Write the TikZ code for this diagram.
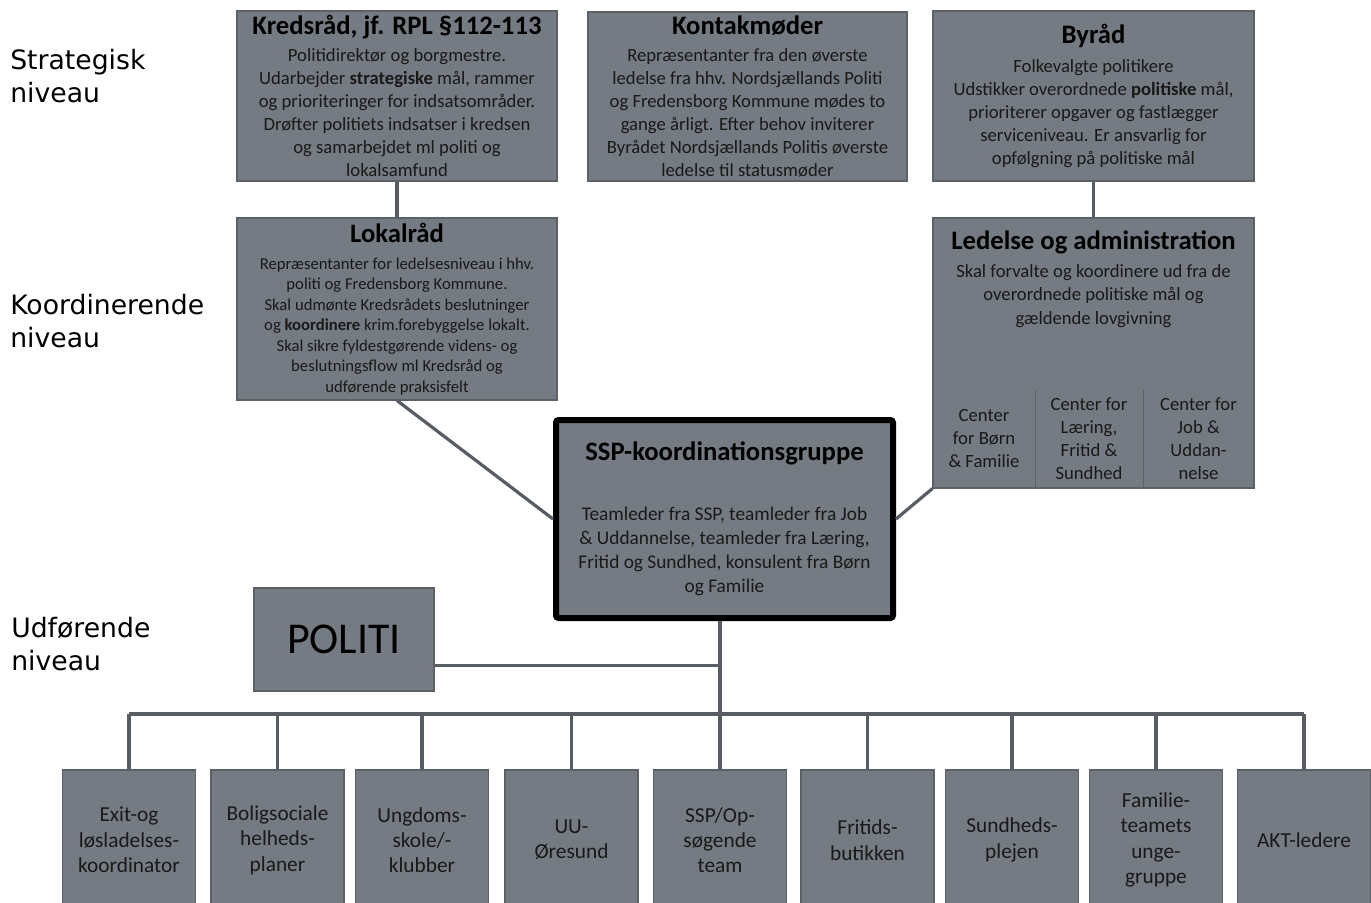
\documentclass[tikz,border=0pt]{standalone}
\usepackage{fontspec}
\setmainfont{Carlito}
\newfontfamily\lvlfont{DejaVu Sans}
\usetikzlibrary{positioning}

\definecolor{boxfill}{RGB}{117,123,131}
\definecolor{boxedge}{RGB}{92,97,104}
\definecolor{linkgray}{RGB}{88,93,100}
\definecolor{boxtext}{RGB}{25,25,25}

\tikzset{
  box/.style={draw=boxedge, fill=boxfill, line width=0.8pt, align=center, inner sep=2pt, text=boxtext},
  link/.style={draw=linkgray, line width=2.4pt},
  divider/.style={draw=boxedge, line width=0.6pt},
  lvl/.style={anchor=west, align=left, inner sep=0pt, font=\lvlfont\fontsize{20}{24.75}\selectfont},
  unit/.style={box, minimum width=99.75pt, minimum height=105pt, font=\fontsize{16}{19}\selectfont},
  cell/.style={align=center, inner sep=0pt, minimum height=73.5pt, text=boxtext, font=\fontsize{14}{17.25}\selectfont},
}
\newcommand{\boxtitle}[1]{{\fontsize{20}{24}\selectfont\bfseries\color{black}#1}}

\begin{document}
\begin{tikzpicture}[x=0.75pt, y=-0.75pt]
    \clip (0,0) rectangle (1371,903);
    \fill[white] (0,0) rectangle (1371,903);

    % levels
    \node[lvl] (lvlstrat) at (10,76.5) {Strategisk\\niveau};
    \node[lvl] (lvlkoord) at (10,321.5) {Koordinerende\\niveau};
    \node[lvl] (lvludf) at (11,644) {Udførende\\niveau};

    % strategic level
    \node[box, minimum width=240pt, minimum height=127.5pt, font=\fontsize{14}{17.25}\selectfont] (kreds) at (397,96)
      {\boxtitle{Kredsråd, jf. RPL §112-113}\\[3pt]
       Politidirektør og borgmestre.\\
       Udarbejder \textbf{strategiske} mål, rammer\\
       og prioriteringer for indsatsområder.\\
       Drøfter  politiets indsatser i kredsen\\
       og samarbejdet ml politi og\\
       lokalsamfund};
    \node[box, minimum width=239.25pt, minimum height=126.75pt, font=\fontsize{14}{17.25}\selectfont] (kontakt) at (747.5,96.5)
      {\boxtitle{Kontakmøder}\\[3pt]
       Repræsentanter fra den øverste\\
       ledelse fra hhv. Nordsjællands Politi\\
       og Fredensborg Kommune  mødes to\\
       gange årligt. Efter behov inviterer\\
       Byrådet Nordsjællands Politis øverste\\
       ledelse til statusmøder};
    \node[box, minimum width=240.75pt, minimum height=127.5pt, font=\fontsize{14}{17.25}\selectfont] (byraad) at (1093.5,96)
      {\boxtitle{Byråd}\\[4pt]
       Folkevalgte politikere\\
       Udstikker overordnede \textbf{politiske} mål,\\
       prioriterer opgaver og fastlægger\\
       serviceniveau. Er ansvarlig for\\
       opfølgning på politiske mål};

    % coordinating level
    \node[box, minimum width=240pt, minimum height=136.5pt, font=\fontsize{12.5}{15.4}\selectfont] (lokal) at (397,309)
      {\boxtitle{Lokalråd}\\[5pt]
       Repræsentanter for ledelsesniveau i hhv.\\
       politi og  Fredensborg Kommune.\\
       Skal udmønte Kredsrådets beslutninger\\
       og \textbf{koordinere}  krim.forebyggelse lokalt.\\
       Skal sikre fyldestgørende videns- og\\
       beslutningsflow ml Kredsråd og\\
       udførende praksisfelt};
    \node[box, minimum width=240.75pt, minimum height=202.5pt] (ledelse) at (1093.5,353) {};
    \node[below=10pt of ledelse.north, align=center, inner sep=0pt, text=boxtext, font=\fontsize{14}{17.6}\selectfont] (ledtxt)
      {\boxtitle{Ledelse og administration}\\[3pt]
       Skal forvalte og koordinere ud fra de\\
       overordnede politiske mål og\\
       gældende lovgivning};
    \node[cell, minimum width=76.5pt] (cbf) at (984,439) {Center\\for Børn\\\& Familie};
    \node[cell, minimum width=81pt] (clfs) at (1089,439) {Center for\\Læring,\\Fritid \&\\Sundhed};
    \node[cell, minimum width=83.25pt] (cju) at (1198.5,439) {Center for\\Job \&\\Uddan-\\nelse};
    \draw[divider] (cbf.north east) -- (cbf.south east);
    \draw[divider] (clfs.north east) -- (clfs.south east);

    \node[box, draw=black, line width=4.5pt, rounded corners=2pt, minimum width=252.75pt, minimum height=148.5pt,
          font=\fontsize{14.5}{18}\selectfont] (ssp) at (724.5,519)
      {\boxtitle{SSP-koordinationsgruppe}\\[27pt]
       Teamleder fra SSP, teamleder fra Job\\
       \& Uddannelse, teamleder fra Læring,\\
       Fritid og Sundhed,  konsulent  fra Børn\\
       og Familie};

    % executing level
    \node[box, minimum width=135pt, minimum height=77.25pt, text=black, font=\fontsize{33}{40}\selectfont] (politi) at (344,639.5) {POLITI};

    \foreach \xx/\txt [count=\i] in {129/{Exit-og\\løsladelses-\\koordinator},
                                    277.5/{Boligsociale\\helheds-\\planer},
                                    422/{Ungdoms-\\skole/-\\klubber},
                                    571.5/{UU-\\Øresund},
                                    720/{SSP/Op-\\søgende\\team},
                                    867.5/{Fritids-\\butikken},
                                    1012/{Sundheds-\\plejen},
                                    1156/{Familie-\\teamets\\unge-\\gruppe},
                                    1304/{AKT-ledere}}
      \node[unit] (b\i) at (\xx,840) {\txt};

    % connectors
    \coordinate (bus) at (720,714);
    \draw[link] (kreds) -- (lokal);
    \draw[link] (byraad) -- (ledelse);
    \draw[link] (lokal.south) -- (ssp.west);
    \draw[link] (ledelse.south west) -- (ssp.east);
    \draw[link] (ssp.south -| bus) -- (bus);
    \draw[link] (politi.-16) -- (politi.-16 -| bus);
    \draw[link] (b1.north |- bus) -- (b9.north |- bus);
    \foreach \i in {1,...,9}
      \draw[link] (b\i.north |- bus) -- (b\i);
\end{tikzpicture}
\end{document}
